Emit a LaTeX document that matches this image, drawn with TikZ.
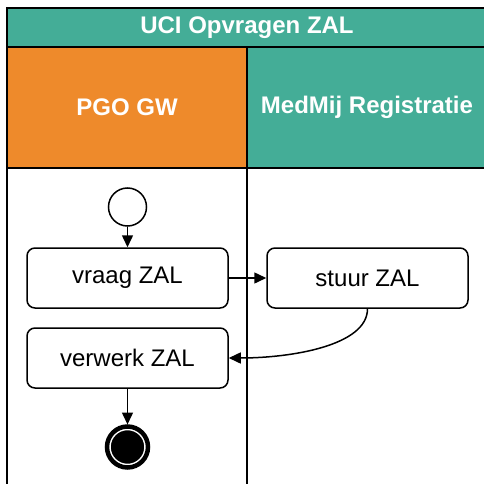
\documentclass[tikz,border=0pt]{standalone}
\usepackage{fontspec}
\setmainfont{Liberation Sans}
\usetikzlibrary{arrows.meta}

\definecolor{laneteal}{HTML}{44AD97}
\definecolor{laneorange}{HTML}{EE8A2B}

\begin{document}
\begin{tikzpicture}[x=1pt,y=1pt,yscale=-1,
  lanehead/.style={draw,line width=1.5pt,text=white,inner sep=0pt,font=\fontsize{24}{28}\selectfont\bfseries},
  actbox/.style={draw,line width=1.5pt,rounded corners=8pt,fill=white,minimum width=201pt,minimum height=60pt,inner sep=0pt,font=\fontsize{24}{28}\selectfont},
  flow/.style={line width=1.5pt,-{Triangle[width=11pt,length=12pt]}}]
\useasboundingbox (0,0) rectangle (483,484);

% Pool title
\node [lanehead,fill=laneteal,minimum width=480pt,minimum height=39pt] (pool) at (247,27.5) {UCI Opvragen ZAL};
% Lane headers
\node [lanehead,fill=laneorange,minimum width=240pt,minimum height=121pt] (pgo) at (127,107.5) {PGO GW};
\node [lanehead,fill=laneteal,minimum width=240pt,minimum height=121pt] (medmij) at (367,107.5) {MedMij Registratie};
% Lane bodies
\draw [line width=1.5pt] (7,168) rectangle (247,500);
\draw [line width=1.5pt] (247,168) rectangle (487,500);

% Start
\node [circle,draw,line width=1.5pt,fill=white,minimum size=38pt,inner sep=0pt] (start) at (127.5,207) {};
% Activities
\node [actbox] (vraag) at (127.5,278) {vraag ZAL};
\node [actbox] (stuur) at (367.5,278) {stuur ZAL};
\node [actbox] (verwerk) at (127.5,358) {verwerk ZAL};
% End
\node [circle,fill=black,draw=white,line width=1.5pt,minimum size=35pt,inner sep=0pt,outer sep=5pt] (eind) at (127.5,447) {};
\draw [line width=4.5pt] (eind.center) circle (20.5);

% Connection
\draw [flow] (start) -- (vraag);
% Connection
\draw [flow] (vraag) -- (stuur);
% Connection
\draw [flow] (stuur.south) .. controls +(0,37) and +(62,0) .. (verwerk.east);
% Connection
\draw [flow] (verwerk) -- (eind);

\end{tikzpicture}
\end{document}
